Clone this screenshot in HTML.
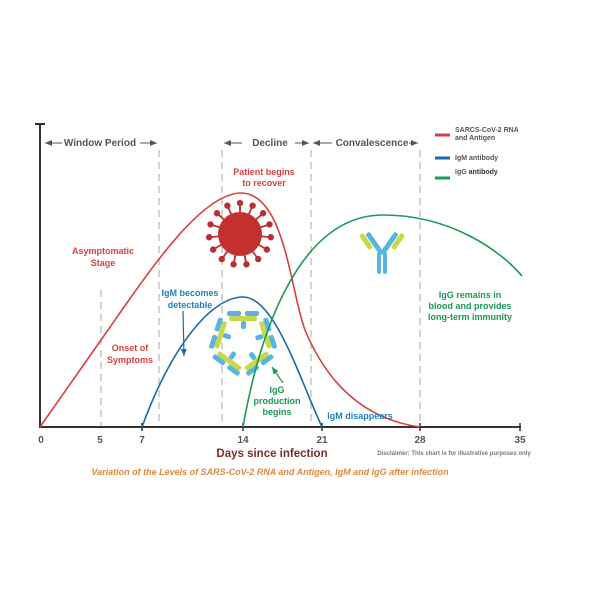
<!DOCTYPE html>
<html><head><meta charset="utf-8"><style>
html,body{margin:0;padding:0;background:#fff}
svg{display:block}
text{font-family:"Liberation Sans",sans-serif;font-weight:bold}
</style></head><body>
<svg width="600" height="600" viewBox="0 0 600 600" xmlns="http://www.w3.org/2000/svg">
<defs>
<marker id="ah" markerWidth="8" markerHeight="8" refX="7" refY="4" orient="auto" markerUnits="userSpaceOnUse"><path d="M0,1 L7,4 L0,7 Z" fill="#555"/></marker>
<marker id="ab" markerWidth="8" markerHeight="8" refX="7" refY="4" orient="auto" markerUnits="userSpaceOnUse"><path d="M0,1 L7,4 L0,7 Z" fill="#1e6aa0"/></marker>
<marker id="ag" markerWidth="8" markerHeight="8" refX="7" refY="4" orient="auto" markerUnits="userSpaceOnUse"><path d="M0,1 L7,4 L0,7 Z" fill="#1a9a55"/></marker>
</defs>
<!-- dashed lines -->
<g stroke="#bbb" stroke-width="1.3" stroke-dasharray="7,5">
<line x1="101" y1="290" x2="101" y2="427"/>
<line x1="159" y1="150" x2="159" y2="427"/>
<line x1="222" y1="150" x2="222" y2="427"/>
<line x1="311" y1="150" x2="311" y2="427"/>
<line x1="420" y1="150" x2="420" y2="427"/>
</g>
<!-- axes -->
<line x1="40" y1="123" x2="40" y2="428" stroke="#333" stroke-width="2"/>
<line x1="35" y1="124" x2="45" y2="124" stroke="#333" stroke-width="2"/>
<line x1="40" y1="427" x2="521" y2="427" stroke="#333" stroke-width="2"/>
<g stroke="#333" stroke-width="1.5">
<line x1="142" y1="423" x2="142" y2="431"/><line x1="243" y1="423" x2="243" y2="431"/>
<line x1="322" y1="423" x2="322" y2="431"/><line x1="420" y1="423" x2="420" y2="431"/>
<line x1="520" y1="423" x2="520" y2="431"/>
</g>
<g font-size="10" fill="#555" text-anchor="middle">
<text x="41" y="443">0</text><text x="100" y="443">5</text><text x="142" y="443">7</text>
<text x="243" y="443">14</text><text x="322" y="443">21</text><text x="420" y="443">28</text><text x="520" y="443">35</text>
</g>
<text x="272" y="457" font-size="11.5" fill="#7a2e2e" text-anchor="middle">Days since infection</text>
<text x="454" y="455" font-size="6" fill="#777" font-weight="normal" text-anchor="middle">Disclaimer: This chart is for illustrative purposes only</text>
<text x="270" y="475" font-size="9" fill="#e0883a" font-style="italic" text-anchor="middle">Variation of the Levels of SARS-CoV-2 RNA and Antigen, IgM and IgG after infection</text>
<!-- header -->
<g font-size="10" fill="#555" text-anchor="middle">
<text x="100" y="146">Window Period</text><text x="270" y="146">Decline</text><text x="372" y="146">Convalescence</text>
</g>
<g stroke="#555" stroke-width="1">
<line x1="62" y1="143" x2="45" y2="143" marker-end="url(#ah)"/>
<line x1="140" y1="143" x2="157" y2="143" marker-end="url(#ah)"/>
<line x1="242" y1="143" x2="224" y2="143" marker-end="url(#ah)"/>
<line x1="295" y1="143" x2="309" y2="143" marker-end="url(#ah)"/>
<line x1="332" y1="143" x2="313" y2="143" marker-end="url(#ah)"/>
<line x1="409" y1="143" x2="418" y2="143" marker-end="url(#ah)"/>
</g>
<!-- legend -->
<line x1="435" y1="135" x2="450" y2="135" stroke="#d84040" stroke-width="3"/>
<line x1="435" y1="158" x2="450" y2="158" stroke="#1e6aa0" stroke-width="3"/>
<line x1="435" y1="178" x2="450" y2="178" stroke="#1a9a55" stroke-width="3"/>
<g font-size="7" fill="#555" font-weight="normal">
<text x="455" y="132">SARCS-CoV-2 RNA</text><text x="455" y="140">and Antigen</text>
<text x="455" y="160">IgM antibody</text><text x="455" y="174">IgG <tspan font-weight="bold" fill="#333">antibody</tspan></text>
</g>
<!-- virus -->
<g transform="translate(240,234)" stroke="#b83030" stroke-width="1.8">
<g id="sp"><line x1="0" y1="-20" x2="0" y2="-30"/><circle cx="0" cy="-31" r="2.3" fill="#b83030"/></g>
<use href="#sp" transform="rotate(24)"/><use href="#sp" transform="rotate(48)"/><use href="#sp" transform="rotate(72)"/>
<use href="#sp" transform="rotate(96)"/><use href="#sp" transform="rotate(120)"/><use href="#sp" transform="rotate(144)"/>
<use href="#sp" transform="rotate(168)"/><use href="#sp" transform="rotate(192)"/><use href="#sp" transform="rotate(216)"/>
<use href="#sp" transform="rotate(240)"/><use href="#sp" transform="rotate(264)"/><use href="#sp" transform="rotate(288)"/>
<use href="#sp" transform="rotate(312)"/><use href="#sp" transform="rotate(336)"/>
<circle r="22" fill="#c43030" stroke="none"/>
</g>
<!-- IgG antibody Y -->
<g transform="translate(382,250)">
<rect x="-5" y="2" width="4" height="22" rx="2" fill="#5ab4e0"/><rect x="1" y="2" width="4" height="22" rx="2" fill="#5ab4e0"/>
<rect x="-3" y="-20" width="5" height="26" rx="2" fill="#5ab4e0" transform="rotate(-35 -3 4)"/>
<rect x="-2" y="-20" width="5" height="26" rx="2" fill="#5ab4e0" transform="rotate(35 3 4)"/>
<rect x="-18" y="-18" width="5" height="18" rx="2" fill="#c8d84a" transform="rotate(-35 -15 -8)"/>
<rect x="13" y="-18" width="5" height="18" rx="2" fill="#c8d84a" transform="rotate(35 15 -8)"/>
</g>
<!-- pentamer -->
<g transform="translate(243,342)">
<g id="pa">
<rect x="-14" y="-26" width="28" height="5" rx="2" fill="#c8d84a"/>
<rect x="-16" y="-31" width="14" height="5" rx="2" fill="#5ab4e0"/>
<rect x="2" y="-31" width="14" height="5" rx="2" fill="#5ab4e0"/>
<rect x="-2" y="-21" width="5" height="8" rx="2" fill="#5ab4e0"/>
</g>
<use href="#pa" transform="rotate(72)"/><use href="#pa" transform="rotate(144)"/><use href="#pa" transform="rotate(216)"/><use href="#pa" transform="rotate(288)"/>
</g>
<!-- curves -->
<path d="M40,427 L108,330 C150,270 200,195 240,193 C285,192 290,290 305,330 C330,390 370,420 420,427" fill="none" stroke="#d84040" stroke-width="1.6"/>
<path d="M142,427 C170,350 210,297 243,297 C275,297 300,380 322,427" fill="none" stroke="#1e6aa0" stroke-width="1.6"/>
<path d="M243,427 C260,330 300,215 383,215 C450,215 500,250 522,276" fill="none" stroke="#1a9a55" stroke-width="1.6"/>
<!-- arrows -->
<line x1="183" y1="311" x2="184" y2="356" stroke="#1e6aa0" stroke-width="1.2" marker-end="url(#ab)"/>
<line x1="283" y1="383" x2="272" y2="367" stroke="#1a9a55" stroke-width="1.2" marker-end="url(#ag)"/>
<!-- labels -->
<g font-size="9" text-anchor="middle">
<text x="264" y="175" fill="#d84040">Patient begins</text><text x="264" y="186" fill="#d84040">to recover</text>
<text x="103" y="254" fill="#d84040">Asymptomatic</text><text x="103" y="266" fill="#d84040">Stage</text>
<text x="190" y="296" fill="#1e82c0">IgM becomes</text><text x="190" y="308" fill="#1e82c0">detectable</text>
<text x="130" y="351" fill="#d84040">Onset of</text><text x="130" y="363" fill="#d84040">Symptoms</text>
<text x="277" y="393" fill="#1a9a55">IgG</text><text x="277" y="404" fill="#1a9a55">production</text><text x="277" y="415" fill="#1a9a55">begins</text>
<text x="360" y="419" fill="#1e82c0">IgM disappears</text>
<text x="470" y="298" fill="#1a9a55">IgG remains in</text><text x="470" y="309" fill="#1a9a55">blood and provides</text><text x="470" y="320" fill="#1a9a55">long-term immunity</text>
</g>
</svg>
</body></html>
